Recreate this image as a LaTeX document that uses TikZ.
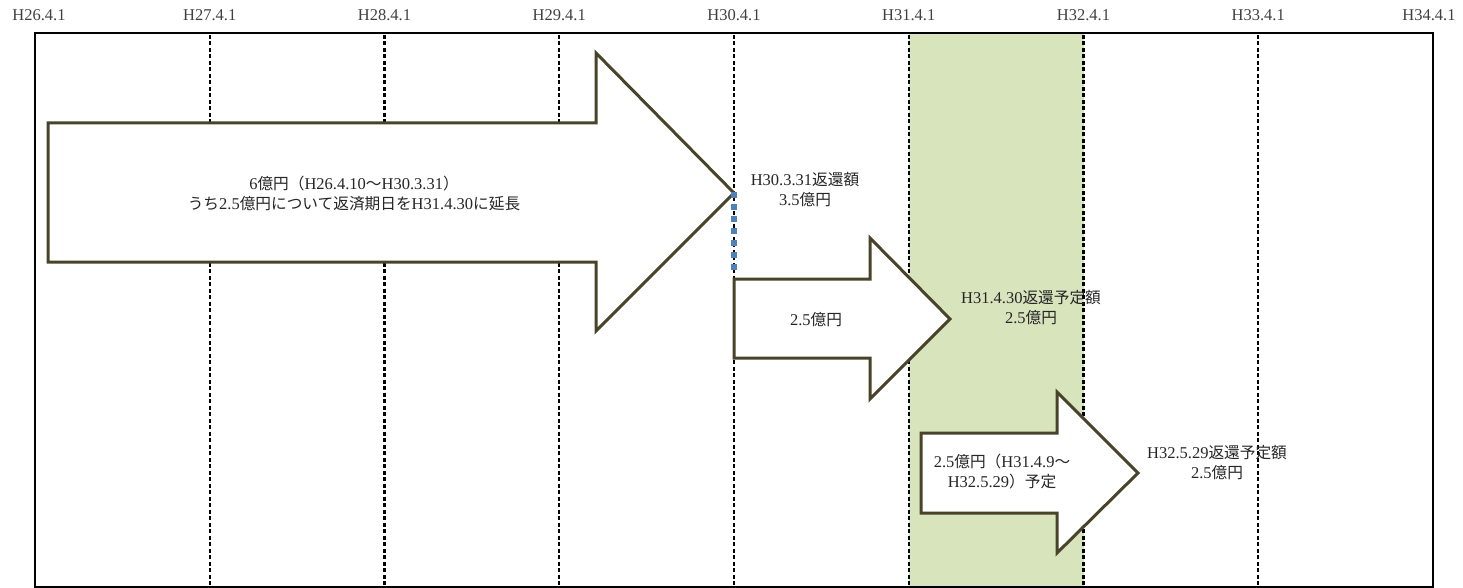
\documentclass[tikz,border=0pt]{standalone}
\usepackage{fontspec}
\usetikzlibrary{decorations.markings}
\setmainfont{Liberation Serif}
\newfontfamily\cj{Noto Sans CJK JP}[Scale=0.95]
\definecolor{band}{RGB}{215,228,188}
\definecolor{arrowline}{RGB}{73,68,41}
\definecolor{dotblue}{RGB}{79,129,189}
\tikzset{
  grid line/.style={black, line width=2.2pt, dash pattern=on 4pt off 2.5pt},
  frame line/.style={black, line width=2.4pt},
  big arrow/.style={fill=white, draw=arrowline, line width=3pt, line join=miter},
  square dots/.style={decoration={markings,
      mark=between positions 0 and 1 step 12pt with {\fill[dotblue] (-2.7pt,-2.7pt) rectangle (2.7pt,2.7pt);}},
      decorate},
  lbl/.style={font=\fontsize{16.5}{20}\selectfont, align=center, inner sep=0pt, text=black!85},
  hdr/.style={font=\fontsize{16.5}{18}\selectfont, inner sep=0pt, text=black!75}
}
\begin{document}
\begin{tikzpicture}[x=1pt,y=-1pt]
\useasboundingbox (0,0) rectangle (1463,588);
% green band
\fill[band] (909,33) rectangle (1084,587);
% grid lines
\foreach \i in {1,...,7} {
  \draw[grid line] ({35+174.75*\i},35) -- ({35+174.75*\i},587);
}
% header labels
\foreach \i/\t in {0/26,1/27,2/28,3/29,4/30,5/31,6/32,7/33,8/34} {
  \node[hdr] (h\t) at ({max(39,min(1429,35+174.75*\i))},15) {H\t.4.1};
}
% frame
\draw[frame line] (35,33) rectangle (1433,587);
% arrows
\draw[big arrow] (48,123) -- (596,123) -- (596,53) -- (734,193) -- (596,331) -- (596,262) -- (48,262) -- cycle;
\draw[big arrow] (734,279) -- (870,279) -- (870,238) -- (950,319) -- (870,399) -- (870,358) -- (734,358) -- cycle;
\draw[big arrow] (921,433) -- (1057,433) -- (1057,392) -- (1138,473) -- (1057,553) -- (1057,513) -- (921,513) -- cycle;
% blue dotted connector
\coordinate (tipA) at (734,195);
\coordinate (baseB) at (734,268);
\path[square dots] (tipA) -- (baseB);
% labels
\node[lbl] (t1) at (354,193) {6{\cj 億円（}H26.4.10{\cj ～}H30.3.31{\cj ）}\\{\cj うち}2.5{\cj 億円について返済期日を}H31.4.30{\cj に延長}};
\node[lbl] (t2) at (805,190) {H30.3.31{\cj 返還額}\\3.5{\cj 億円}};
\node[lbl] (t3) at (816,320) {2.5{\cj 億円}};
\node[lbl] (t4) at (1031,308) {H31.4.30{\cj 返還予定額}\\2.5{\cj 億円}};
\node[lbl] (t5) at (1002,472) {2.5{\cj 億円（}H31.4.9{\cj ～}\\H32.5.29{\cj ）予定}};
\node[lbl] (t6) at (1217,463) {H32.5.29{\cj 返還予定額}\\2.5{\cj 億円}};
\end{tikzpicture}
\end{document}
